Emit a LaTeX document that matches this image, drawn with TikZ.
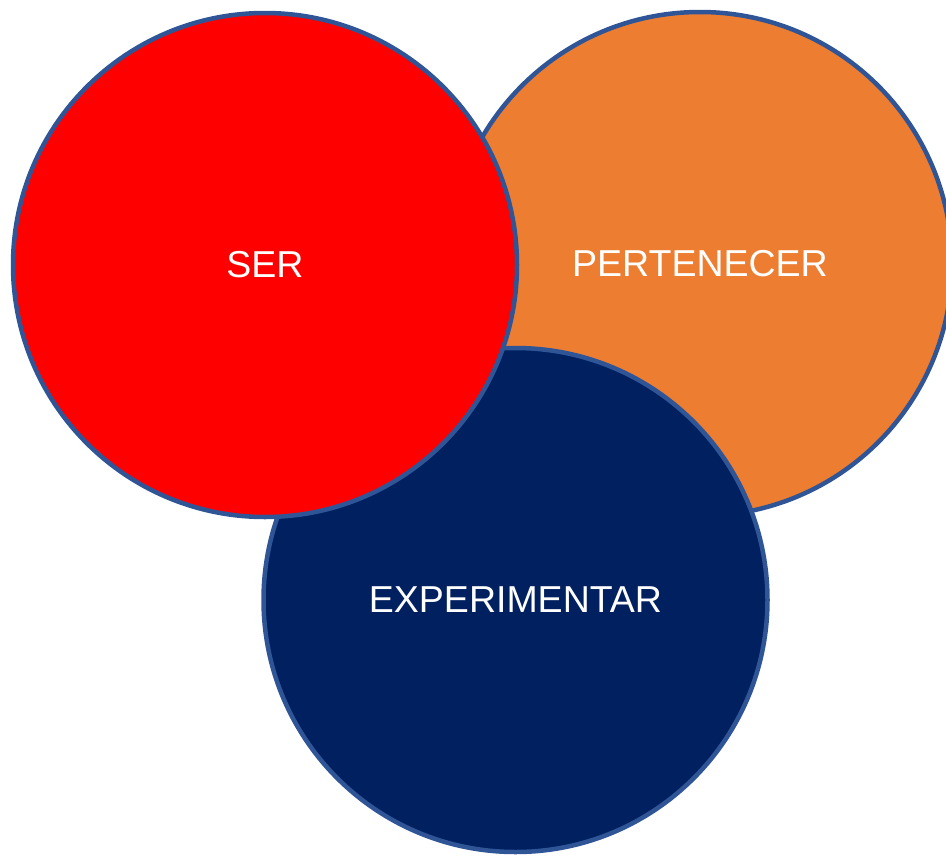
\documentclass[tikz,border=0pt]{standalone}
\usepackage{fontspec}
\setmainfont{Liberation Sans}
\definecolor{ring}{HTML}{2F5597}
\definecolor{redfill}{HTML}{FF0000}
\definecolor{orangefill}{HTML}{ED7D31}
\definecolor{navyfill}{HTML}{002060}
\begin{document}
\begin{tikzpicture}[x=1pt,y=-1pt,
  bubble/.style={circle, draw=ring, line width=4.5pt, minimum size=504pt, inner sep=0pt,
    text=white, font=\fontsize{37.5}{40}\selectfont}]
\useasboundingbox (0,0) rectangle (946,857);
\node[bubble, fill=orangefill] (pert) at (700,264) {PERTENECER};
\node[bubble, fill=navyfill] (exp) at (515.5,600) {\raisebox{-3pt}{EXPERIMENTAR}};
\node[bubble, fill=redfill] (ser) at (265,265) {SER};
\end{tikzpicture}
\end{document}
